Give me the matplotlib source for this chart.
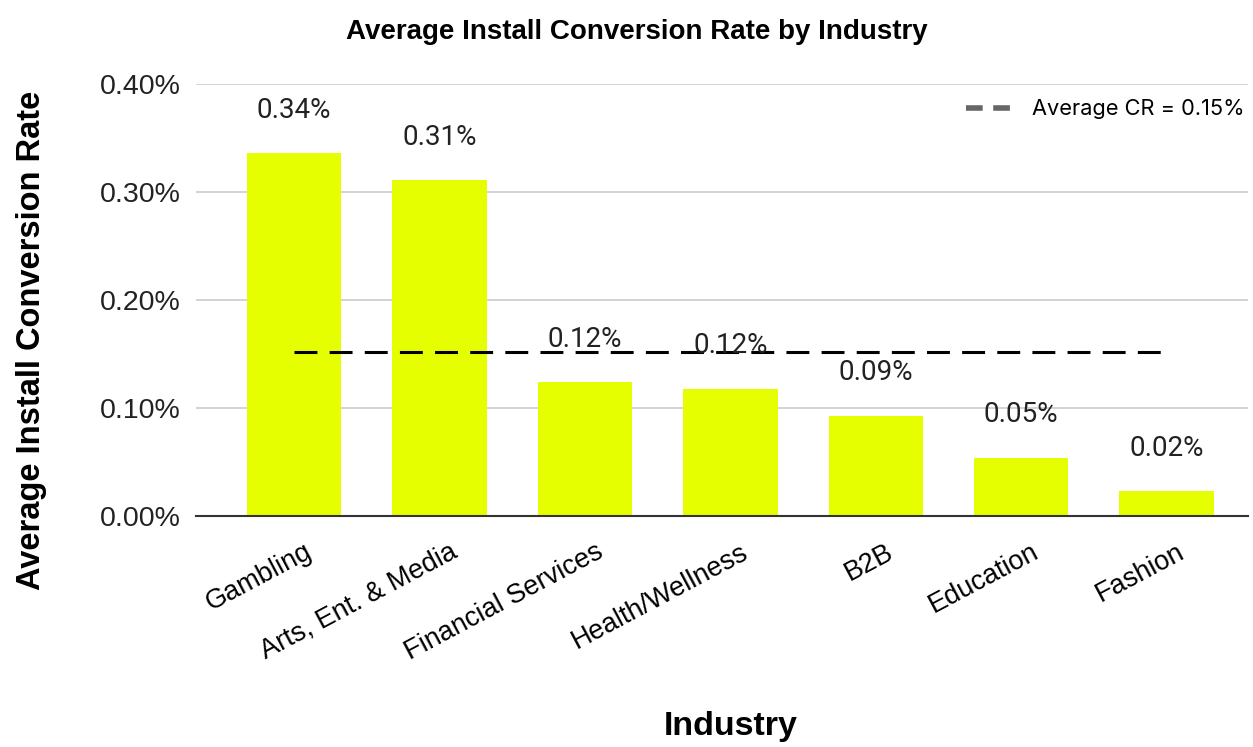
import matplotlib
matplotlib.use("Agg")
import matplotlib.pyplot as plt
import matplotlib.transforms as mtransforms
from matplotlib.lines import Line2D

# data (values in percent)
industries = ["Gambling", "Arts, Ent. & Media", "Financial Services",
              "Health/Wellness", "B2B", "Education", "Fashion"]
conv_rate = [0.336, 0.311, 0.124, 0.118, 0.093, 0.054, 0.023]
avg_cr = 0.152
avg_label = "Average CR = 0.15%"
yticks = [0.0, 0.1, 0.2, 0.3, 0.4]

bar_color = "#e5ff00"
sans = ["Liberation Sans", "DejaVu Sans"]

fig = plt.figure(figsize=(12.53, 7.47), dpi=100)
ax = fig.add_axes([196 / 1253, 1 - 516 / 747, 1052 / 1253, 432 / 747])

x = list(range(len(industries)))
bars = ax.bar(x, conv_rate, width=0.65, color=bar_color, zorder=2)

# value labels
for xi, v in zip(x, conv_rate):
    ax.annotate(f"{v:.2f}%", (xi, v), xytext=(0, 31), textcoords="offset points",
                ha="center", va="center", fontsize=20, family=["Roboto", "DejaVu Sans"],
                color="#222222", zorder=4)

# average line across bar centres
ax.plot([x[0], x[-1]], [avg_cr, avg_cr], color="black", lw=2.2,
        dashes=(7.5, 4), zorder=3)

handle = Line2D([], [], color="#666666", lw=4, dashes=(3.0, 1.9))
leg = ax.legend([handle], [avg_label], loc="upper right", frameon=False,
                prop={"family": ["Inter", "DejaVu Sans"], "size": 15.7},
                handlelength=2.0, handletextpad=1.0,
                bbox_to_anchor=(1.005, 0.985), borderaxespad=0)

ax.set_ylim(0, 0.4)
ax.set_xlim(-0.675, 6.56)
ax.set_yticks(yticks)
ax.set_yticklabels([f"{t:.2f}%" for t in yticks], family=sans, fontsize=20.5)
ax.tick_params(axis="y", length=0, pad=11, colors="#222222")
ax.grid(axis="y", color="#cccccc", lw=1.2, zorder=0)
ax.set_axisbelow(True)

for s in ["top", "right", "left"]:
    ax.spines[s].set_visible(False)
ax.spines["bottom"].set_color("#333333")
ax.spines["bottom"].set_linewidth(1.5)

ax.set_xticks(x)
ax.set_xticklabels(industries, rotation=28, ha="right", va="top",
                   rotation_mode="anchor", family=sans, fontsize=19.5)
ax.tick_params(axis="x", length=0, pad=16.5)
offset = mtransforms.ScaledTranslation(10 / 100, 0, fig.dpi_scale_trans)
for lab in ax.get_xticklabels():
    lab.set_transform(lab.get_transform() + offset)

ax.set_ylabel("Average Install Conversion Rate", family=sans, fontsize=23.5,
              fontweight="bold")
ax.yaxis.set_label_coords(-0.142, 0.407, transform=ax.transAxes)
fig.text(0.583, 0.016, "Industry", family=sans, fontsize=24.5, fontweight="bold",
         ha="center", va="baseline")
fig.text(0.508, 0.948, "Average Install Conversion Rate by Industry",
         family=sans, fontsize=20, fontweight="bold",
         ha="center", va="baseline")

fig.savefig("out.png", dpi=100, facecolor="white")
